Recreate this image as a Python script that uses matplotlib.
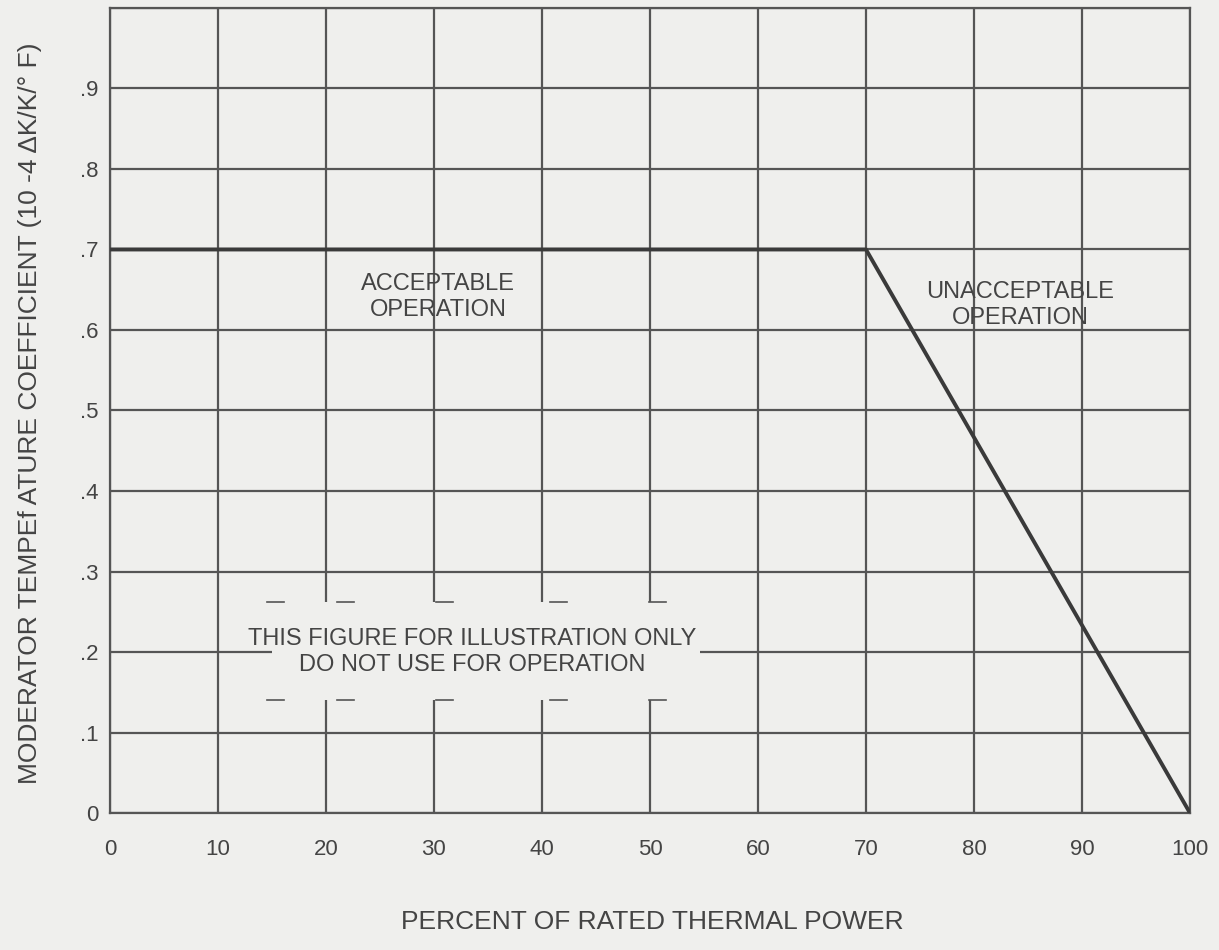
import matplotlib.pyplot as plt
from matplotlib.patches import Rectangle

plt.rcParams["font.family"] = ["Liberation Sans", "DejaVu Sans"]

# limit curve
power = [0, 70, 100]
mtc = [0.7, 0.7, 0.0]

x_ticks = [0, 10, 20, 30, 40, 50, 60, 70, 80, 90, 100]
y_ticks = [0, 0.1, 0.2, 0.3, 0.4, 0.5, 0.6, 0.7, 0.8, 0.9, 1.0]
y_labels = ["0", ".1", ".2", ".3", ".4", ".5", ".6", ".7", ".8", ".9", ""]

# "illustration only" stamp: blanked box and its corner marks
stamp_x = [15, 54.6]
stamp_y = [0.14, 0.262]
mark_x = [15.3, 21.8, 31.0, 41.5, 50.7]
mark_top = 0.262
mark_bot = 0.14

bg = "#efefed"
ink = "#555555"
txt = "#444444"

fig = plt.figure(figsize=(12.19, 9.5), dpi=100, facecolor=bg)
ax = fig.add_axes([0.0902, 0.1442, 0.886, 0.8474])
ax.set_facecolor(bg)

ax.set_xlim(0, 100)
ax.set_ylim(0, 1.0)
ax.set_xticks(x_ticks)
ax.set_yticks(y_ticks)
ax.set_yticklabels(y_labels)
ax.tick_params(length=0, labelsize=16, colors=txt)
ax.tick_params(axis="x", pad=19)
ax.tick_params(axis="y", pad=8)
ax.grid(True, color=ink, linewidth=1.6)
ax.set_axisbelow(True)
for s in ax.spines.values():
    s.set_color(ink)
    s.set_linewidth(1.6)

ax.add_patch(Rectangle((stamp_x[0], stamp_y[0]), stamp_x[1] - stamp_x[0],
                       stamp_y[1] - stamp_y[0], facecolor=bg, edgecolor="none",
                       zorder=1.5))
for mx in mark_x:
    for my in (mark_top, mark_bot):
        ax.plot([mx - 0.8, mx + 0.8], [my, my], color=ink, lw=1.2, zorder=2)

ax.plot(power, mtc, color="#3a3a3a", lw=2.8, zorder=3)

ax.text(30.4, 0.641, "ACCEPTABLE\nOPERATION", ha="center", va="center",
        fontsize=17, color=txt, linespacing=1.25)
ax.text(84.3, 0.631, "UNACCEPTABLE\nOPERATION", ha="center", va="center",
        fontsize=17, color=txt, linespacing=1.25)
ax.text(33.5, 0.2, "THIS FIGURE FOR ILLUSTRATION ONLY\nDO NOT USE FOR OPERATION",
        ha="center", va="center", fontsize=17, color=txt, linespacing=1.25,
        zorder=4)

fig.text(0.535, 0.029, "PERCENT OF RATED THERMAL POWER", ha="center",
         va="center", fontsize=19, color=txt)
fig.text(0.025, 0.565, "MODERATOR TEMPEf ATURE COEFFICIENT (10 -4 \u0394K/K/\u00b0 F)",
         ha="center", va="center", rotation=90, fontsize=19, color=txt)

fig.savefig("out.png", dpi=100, facecolor=bg)
